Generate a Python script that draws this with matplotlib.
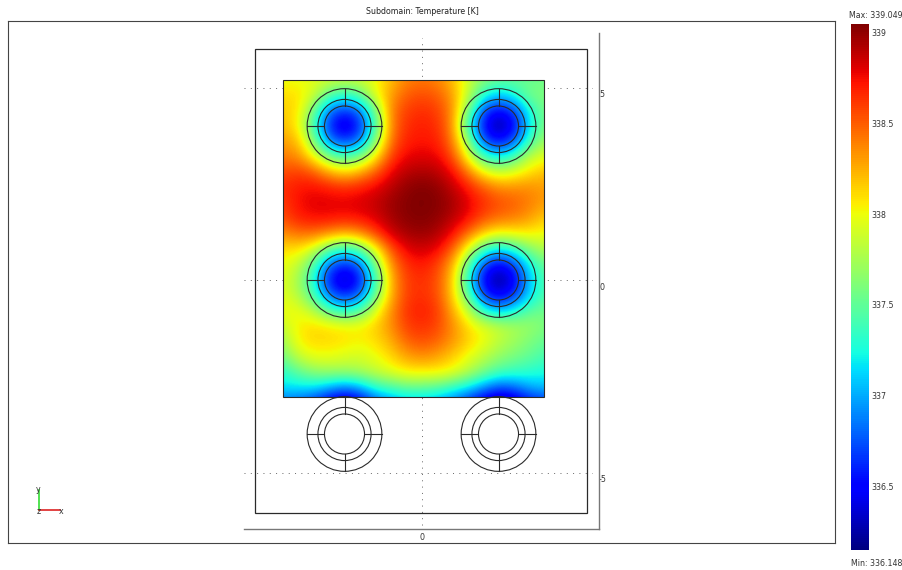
import numpy as np
import matplotlib
matplotlib.use("Agg")
import matplotlib.pyplot as plt
from matplotlib.patches import Circle, Rectangle
from matplotlib.transforms import ScaledTranslation

W, H = 902, 570
PX_PER_UNIT = 38.5
X0_PX, Y0_PX = 421.5, 280.0

TITLE = "Subdomain: Temperature [K]"
T_MIN, T_MAX = 336.148, 339.049
CB_TICKS = [336.5, 337, 337.5, 338, 338.5, 339]
CB_LABELS = ["336.5", "337", "337.5", "338", "338.5", "339"]
X_TICKS = [0]
Y_TICKS = [-5, 0, 5]

# temperature at these sample positions
grid_x = [-3.6, -3.2, -2.8, -2.4, -2.0, -1.6, -1.2, -0.8, -0.4, 0.0, 0.4, 0.8, 1.2, 1.6, 2.0, 2.4, 2.8, 3.2]
grid_y = [5.2, 4.8, 4.4, 4.0, 3.6, 3.2, 2.8, 2.4, 2.0, 1.6, 1.2, 0.8, 0.4, 0.0, -0.4, -0.8, -1.2, -1.6, -2.0, -2.4, -2.8, -3.2]
temperature = [
 [337.98,337.98,337.95,337.90,337.88,337.90,338.00,338.20,338.38,338.42,338.38,338.20,337.88,337.65,337.55,337.52,337.52,337.55],
 [338.10,338.10,337.90,337.50,337.35,337.50,338.00,338.30,338.50,338.55,338.50,338.30,337.85,337.30,337.10,337.30,337.60,337.60],
 [338.15,338.10,337.55,336.85,336.65,336.85,337.60,338.40,338.60,338.65,338.60,338.35,337.60,336.70,336.50,336.70,337.30,337.60],
 [338.20,338.05,337.35,336.60,336.30,336.60,337.40,338.40,338.65,338.70,338.65,338.35,337.30,336.50,336.17,336.50,337.20,337.60],
 [338.30,338.20,337.60,336.85,336.65,336.85,337.65,338.45,338.70,338.72,338.70,338.40,337.65,336.70,336.50,336.75,337.40,337.75],
 [338.40,338.35,338.00,337.55,337.40,337.55,338.05,338.60,338.78,338.80,338.78,338.55,337.95,337.35,337.15,337.40,337.85,337.95],
 [338.55,338.60,338.50,338.25,338.10,338.25,338.50,338.78,338.90,338.93,338.90,338.75,338.40,338.00,337.85,337.95,338.10,338.20],
 [338.65,338.72,338.75,338.70,338.65,338.70,338.78,338.90,339.00,339.04,339.00,338.88,338.70,338.50,338.35,338.35,338.35,338.30],
 [338.60,338.75,338.80,338.80,338.80,338.82,338.88,338.97,339.03,339.05,339.03,338.95,338.80,338.65,338.55,338.50,338.40,338.30],
 [338.55,338.70,338.75,338.75,338.72,338.75,338.82,338.95,339.02,339.04,339.00,338.90,338.75,338.55,338.45,338.40,338.30,338.15],
 [338.35,338.45,338.45,338.35,338.25,338.35,338.60,338.85,338.95,338.98,338.93,338.75,338.45,338.15,338.00,338.05,338.05,338.00],
 [338.10,338.10,337.90,337.50,337.30,337.50,338.00,338.55,338.80,338.85,338.78,338.50,337.95,337.40,337.15,337.35,337.65,337.80],
 [338.00,337.85,337.45,336.80,336.60,336.80,337.60,338.35,338.65,338.72,338.60,338.25,337.50,336.70,336.45,336.70,337.25,337.55],
 [337.95,337.75,337.25,336.55,336.25,336.55,337.35,338.25,338.60,338.65,338.55,338.15,337.25,336.45,336.17,336.45,337.10,337.45],
 [337.95,337.80,337.40,336.80,336.60,336.80,337.55,338.25,338.60,338.65,338.55,338.15,337.45,336.65,336.40,336.65,337.15,337.45],
 [338.00,338.00,337.80,337.45,337.25,337.45,337.95,338.35,338.65,338.70,338.62,338.25,337.85,337.25,337.05,337.25,337.50,337.55],
 [337.85,338.05,338.12,338.08,338.05,338.05,338.15,338.35,338.60,338.65,338.58,338.35,338.10,337.95,337.85,337.75,337.70,337.60],
 [337.70,338.05,338.12,338.12,338.08,338.03,338.10,338.25,338.48,338.55,338.48,338.32,338.15,338.00,337.82,337.72,337.60,337.50],
 [337.55,337.85,337.98,337.98,337.93,337.90,337.98,338.12,338.28,338.35,338.28,338.15,337.98,337.82,337.68,337.58,337.50,337.40],
 [337.30,337.50,337.65,337.70,337.70,337.75,337.85,337.95,338.05,338.05,338.05,337.98,337.80,337.58,337.40,337.35,337.30,337.25],
 [337.15,337.15,337.15,337.00,336.85,337.00,337.30,337.40,337.50,337.50,337.45,337.30,337.15,336.90,336.70,336.80,337.00,337.05],
 [336.80,336.75,336.60,336.35,336.20,336.35,336.70,336.90,337.00,337.00,336.95,336.80,336.55,336.30,336.15,336.25,336.50,336.60],
]

subdomain_x = (-3.6, 3.18)
subdomain_y = (-3.04, 5.2)
frame_x = (-4.32, 4.305)
frame_y = (-6.05, 6.0)
circle_cx = [-2.0, 2.0]
circle_cy = [4.0, 0.0, -4.0]
circle_r = [0.97, 0.69, 0.52]
grid_h_px = (244, 592)
grid_v_px = (38, 525)

EDGE = "#2a2a2a"
FONT = 5.7
plt.rcParams["font.family"] = ["DejaVu Sans"]


def rect(x0, y0, x1, y1):
    """pixel box (top-left origin) to figure fraction"""
    return [x0 / W, 1 - y1 / H, (x1 - x0) / W, (y1 - y0) / H]


def dx(p):
    return (p - X0_PX) / PX_PER_UNIT


def dy(p):
    return (Y0_PX - p) / PX_PER_UNIT


fig = plt.figure(figsize=(W / 100, H / 100), dpi=100, facecolor="white")

# outer box
box = fig.add_axes(rect(8, 21, 835, 543))
box.set_xticks([]); box.set_yticks([])
for s in box.spines.values():
    s.set_color("#444444"); s.set_linewidth(0.8)
box.set_xlim(8, 835); box.set_ylim(543, 21)
box.set_title(TITLE, fontsize=FONT, pad=5, color="#222222",
              x=(422 - 8) / 827)

# coordinate triad
box.plot([39, 39], [510, 490], color="#33dd33", lw=1.2)
box.plot([39, 60], [510, 510], color="#dd2222", lw=1.2)
box.text(38.5, 489, "y", fontsize=FONT, ha="center", va="center", color="#333333")
box.text(61, 511, "x", fontsize=FONT, ha="center", va="center", color="#333333")
box.text(38.5, 511, "z", fontsize=FONT, ha="center", va="center", color="#333333")

# model axes
ax = fig.add_axes(rect(244, 33, 599, 529))
ax.patch.set_alpha(0)
ax.spines["top"].set_visible(False)
ax.spines["left"].set_visible(False)
ax.spines["right"].set_color("#777777")
ax.spines["bottom"].set_color("#777777")
ax.spines["right"].set_linewidth(1.0)
ax.spines["bottom"].set_linewidth(1.0)
ax.yaxis.tick_right()
ax.set_xticks(X_TICKS)
ax.set_yticks(Y_TICKS)
ax.set_xticklabels([str(v) for v in X_TICKS], fontsize=FONT, color="#333333")
ax.set_yticklabels([str(v) for v in Y_TICKS], fontsize=FONT, color="#333333",
                   va="top")
ax.tick_params(axis="x", length=0, pad=3)
ax.tick_params(axis="y", length=0, pad=0)
shift = ScaledTranslation(0, -2.5 / 100, fig.dpi_scale_trans)
for lab in ax.get_yticklabels():
    lab.set_transform(lab.get_transform() + shift)

dots = (0, (1, 5.5))
ax.hlines(Y_TICKS, dx(grid_h_px[0]), dx(grid_h_px[1]), colors="#666666",
          lw=0.7, linestyles=[dots], zorder=1)
ax.vlines(X_TICKS, dy(grid_v_px[1]), dy(grid_v_px[0]), colors="#666666",
          lw=0.7, linestyles=[dots], zorder=1)

Z = np.array(temperature)
hx = (grid_x[1] - grid_x[0]) / 2
hy = (grid_y[0] - grid_y[1]) / 2
im = ax.imshow(Z, cmap="jet", vmin=T_MIN, vmax=T_MAX, interpolation="bicubic",
               origin="upper", aspect="auto", zorder=2,
               extent=(grid_x[0] - hx, grid_x[-1] + hx, grid_y[-1] - hy, grid_y[0] + hy))
ax.set_xlim(dx(244), dx(599))
ax.set_ylim(dy(529), dy(33))
clip = Rectangle((subdomain_x[0], subdomain_y[0]), subdomain_x[1] - subdomain_x[0],
                 subdomain_y[1] - subdomain_y[0], transform=ax.transData)
im.set_clip_path(clip)

ax.add_patch(Rectangle((subdomain_x[0], subdomain_y[0]), subdomain_x[1] - subdomain_x[0],
                       subdomain_y[1] - subdomain_y[0], fill=False, ec=EDGE, lw=0.8, zorder=3))
ax.add_patch(Rectangle((frame_x[0], frame_y[0]), frame_x[1] - frame_x[0],
                       frame_y[1] - frame_y[0], fill=False, ec=EDGE, lw=0.9, zorder=3))
for cx in circle_cx:
    for cy in circle_cy:
        for r in circle_r:
            ax.add_patch(Circle((cx, cy), r, fill=False, ec=EDGE, lw=0.8, zorder=4))
        a, b = circle_r[-1], circle_r[0]
        ax.plot([cx - b, cx - a], [cy, cy], color=EDGE, lw=0.8, zorder=4)
        ax.plot([cx + a, cx + b], [cy, cy], color=EDGE, lw=0.8, zorder=4)
        ax.plot([cx, cx], [cy - b, cy - a], color=EDGE, lw=0.8, zorder=4)
        ax.plot([cx, cx], [cy + a, cy + b], color=EDGE, lw=0.8, zorder=4)

# colour bar
cax = fig.add_axes(rect(851, 24, 869, 550))
cb = fig.colorbar(im, cax=cax)
cb.set_ticks(CB_TICKS)
cb.set_ticklabels(CB_LABELS)
cb.ax.tick_params(length=0, pad=2, labelsize=FONT, labelcolor="#333333")
cb.outline.set_visible(False)

fig.text(849 / W, 1 - 15 / H, f"Max: {T_MAX:.3f}", fontsize=FONT, color="#333333",
         ha="left", va="center")
fig.text(851 / W, 1 - 563 / H, f"Min: {T_MIN:.3f}", fontsize=FONT, color="#333333",
         ha="left", va="center")

fig.savefig("out.png", dpi=100)
